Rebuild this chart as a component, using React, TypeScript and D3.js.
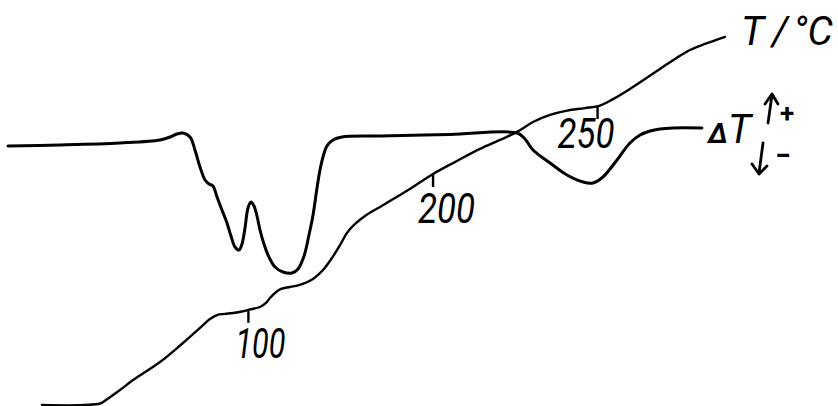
import React from "react";
import * as d3 from "d3";

// DTA trace: time (min) and ΔT (arbitrary units)
const DTA_TIME = [0, 4.33, 9.33, 12.67, 13.5, 14.08, 14.58, 15.17, 15.58, 16.0, 16.42, 16.75, 17.08, 17.42, 17.83, 18.25, 18.58, 18.92, 19.25, 19.5, 19.75, 20.0, 20.25, 20.5, 20.75, 21.0, 21.33, 21.67, 22.25, 22.92, 23.67, 24.17, 24.67, 25.08, 25.42, 25.75, 26.0, 26.25, 26.58, 27.08, 27.83, 31.0, 36.83, 42.42, 43.08, 43.75, 45.17, 46.58, 47.92, 48.75, 49.58, 50.17, 50.75, 51.83, 52.67, 53.5, 54.33, 55.42, 57.83];
const DTA_VALUE = [-0.9, -0.8, -0.6, -0.3, 0.0, 0.3, 0.4, 0.0, -1.3, -3.0, -4.3, -4.7, -4.9, -6.0, -7.3, -8.6, -9.9, -11.0, -11.3, -10.7, -9.1, -7.1, -6.5, -6.9, -7.9, -9.3, -10.7, -11.8, -13.0, -13.5, -13.6, -13.2, -11.9, -9.8, -7.8, -5.1, -3.3, -2.0, -0.9, -0.3, 0.0, 0.1, 0.25, 0.4, -0.2, -1.3, -2.6, -3.8, -4.5, -4.6, -4.0, -3.2, -2.3, -0.6, 0.2, 0.6, 0.8, 0.9, 0.9];

// Temperature trace: time (min) and T (°C)
const T_TIME = [2.83, 7.67, 8.17, 9.33, 10.42, 12.67, 14.58, 16.0, 16.83, 17.42, 18.08, 18.75, 19.58, 20.17, 21.0, 21.5, 21.83, 22.25, 22.75, 23.5, 24.33, 25.42, 26.25, 27.0, 27.67, 28.25, 28.92, 29.75, 31.0, 32.67, 33.75, 35.42, 37.25, 39.33, 41.0, 42.42, 43.75, 45.17, 46.58, 48.08, 49.33, 50.42, 51.83, 53.08, 54.33, 55.58, 56.83, 58.08, 59.75];
const T_VALUE = [30.0, 31.1, 33.7, 41.0, 48.4, 61.6, 75.6, 86.7, 93.3, 96.2, 97.0, 97.7, 99.0, 100.3, 102.1, 105.1, 108.7, 112.4, 115.4, 116.8, 118.3, 122.7, 129.3, 138.2, 147.7, 156.6, 163.2, 169.1, 175.7, 184.5, 190.4, 200.0, 208.8, 218.4, 225.0, 230.9, 238.2, 243.4, 246.6, 248.4, 250.3, 255.0, 262.5, 269.8, 277.2, 284.6, 291.2, 295.6, 300.8];

const TICK_TEMPS = [100, 200, 250];
const TICK_LABELS = ["100", "200", "250"];
const TICK_LABEL_DX = [-13, -15, -40];
const TICK_LABEL_DY = [48, 49, 42];
const TICK_LABEL_LEN = [50, 57, 57];

const W = 838;
const H = 406;

export default function App() {
  const x = d3.scaleLinear().domain([0, 60]).range([8, 728]);
  const yD = d3.scaleLinear().domain([-15, 2]).range([287, 117]);
  const yT = d3.scaleLinear().domain([30, 300]).range([405, 38]);

  const dta = DTA_TIME.map((t, i) => [t, DTA_VALUE[i]] as [number, number]);
  const temp = T_TIME.map((t, i) => [t, T_VALUE[i]] as [number, number]);

  const lineD = d3
    .line<[number, number]>()
    .x((d) => x(d[0]))
    .y((d) => yD(d[1]))
    .curve(d3.curveCatmullRom.alpha(0.5));
  const lineT = d3
    .line<[number, number]>()
    .x((d) => x(d[0]))
    .y((d) => yT(d[1]))
    .curve(d3.curveCatmullRom.alpha(0.5));

  const timeAt = (v: number) => {
    for (let i = 1; i < temp.length; i++) {
      const [t0, v0] = temp[i - 1];
      const [t1, v1] = temp[i];
      if ((v0 <= v && v <= v1) || (v1 <= v && v <= v0)) {
        return t0 + ((v - v0) / (v1 - v0)) * (t1 - t0);
      }
    }
    return temp[temp.length - 1][0];
  };

  const labelFont = "Roboto, 'Liberation Sans', sans-serif";

  return (
    <svg
      width={W}
      height={H}
      style={{ position: "fixed", left: 0, top: 0, background: "#fff" }}
    >
      <path d={lineD(dta) || ""} fill="none" stroke="#000" strokeWidth={3} strokeLinejoin="round" strokeLinecap="round" />
      <path d={lineT(temp) || ""} fill="none" stroke="#000" strokeWidth={2.4} strokeLinejoin="round" strokeLinecap="round" />

      {TICK_TEMPS.map((v, i) => {
        const tx = x(timeAt(v));
        const ty = yT(v);
        return (
          <g key={v}>
            <line x1={tx} y1={ty} x2={tx} y2={ty + 13} stroke="#000" strokeWidth={2.4} />
            <text
              x={tx + TICK_LABEL_DX[i]}
              y={ty + TICK_LABEL_DY[i]}
              fontFamily={labelFont}
              fontStyle="italic"
              fontWeight={400}
              fontSize={42}
              textLength={TICK_LABEL_LEN[i]}
              lengthAdjust="spacingAndGlyphs"
              fill="#000"
            >
              {TICK_LABELS[i]}
            </text>
          </g>
        );
      })}

      <text y={45} fontFamily={labelFont} fontStyle="italic" fontWeight={400} fontSize={40} fill="#000">
        <tspan x={741}>T</tspan>
        <tspan x={772}>/</tspan>
        <tspan x={793}>°C</tspan>
      </text>

      <text x={708} y={143} fontFamily={labelFont} fontStyle="italic" fill="#000">
        <tspan fontSize={28} fontWeight={700}>Δ</tspan>
        <tspan fontSize={40} fontWeight={400}>T</tspan>
      </text>

      {/* direction arrows */}
      <g stroke="#000" strokeWidth={2.8} fill="none" strokeLinecap="round" strokeLinejoin="round">
        <path d="M768,123 L772,95 M765,104 L772,94 L778,104" />
        <path d="M763,143 L759,173 M752,164 L759,174 L767,166" />
      </g>
      <text x={787} y={122} textAnchor="middle" fontFamily={labelFont} fontWeight={700} fontSize={26} fill="#000">+</text>
      <text x={783} y={165} textAnchor="middle" fontFamily={labelFont} fontWeight={700} fontSize={28} fill="#000">−</text>
    </svg>
  );
}
